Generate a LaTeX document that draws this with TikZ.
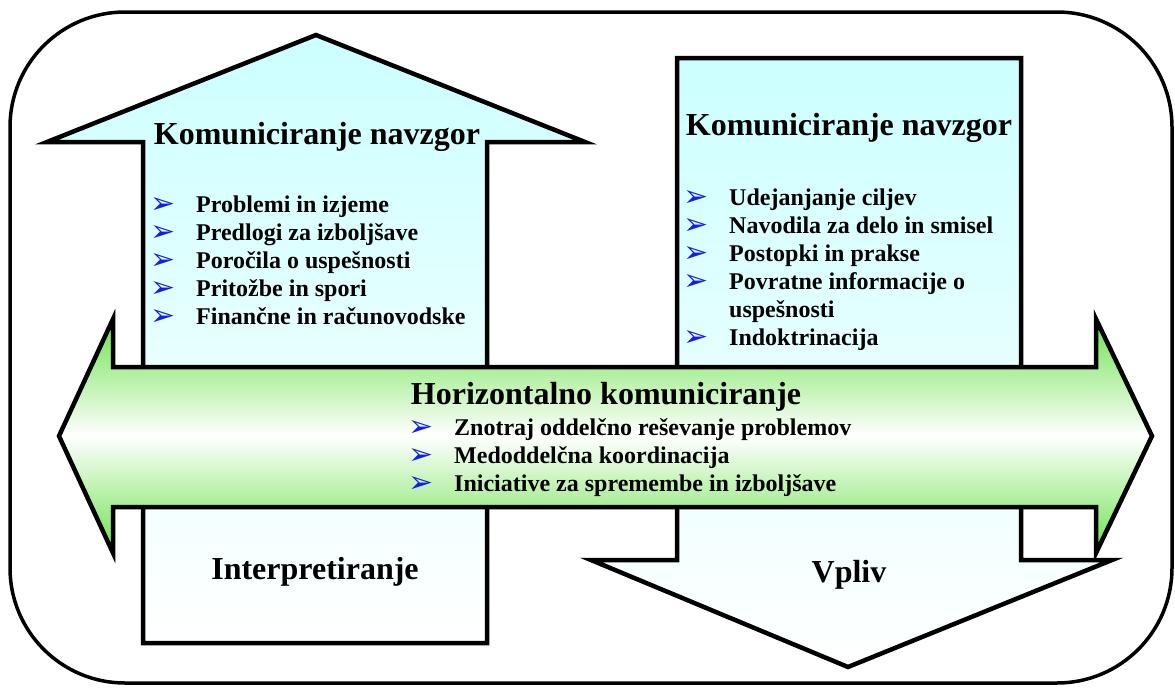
\documentclass[tikz,border=0pt]{standalone}
\usepackage{fontspec}
\setmainfont{Liberation Serif}
\newfontfamily\symfont{DejaVu Sans}
\usepackage{tikz}
\usetikzlibrary{positioning}

\definecolor{upcyan}{RGB}{204,255,255}   % 竖向箭头顶部的浅青色
\definecolor{hgreen}{RGB}{110,226,78}    % 横向箭头上下边缘的绿色
\definecolor{bulletblue}{RGB}{20,30,230} % 列表符号的蓝色

\newcommand{\bul}{\makebox[46pt][l]{\raisebox{-1pt}{\symfont\fontsize{30}{30}\selectfont\color{bulletblue}➢}}}

\tikzset{
  frame/.style={line width=3.5pt, rounded corners=115pt},
  bigarrow/.style={draw=black, line width=4.5pt, line join=miter},
  vfill/.style={top color=upcyan, bottom color=white},
  hfill/.style={top color=hgreen, bottom color=hgreen, middle color=white},
  headtext/.style={font=\fontsize{32}{36}\selectfont\bfseries, inner sep=0pt},
  listtext/.style={font=\fontsize{24}{28}\selectfont\bfseries, align=left, inner sep=0pt}
}

\begin{document}
\begin{tikzpicture}[x=1pt, y=-1pt] % 以像素为单位，y 轴向下
  \useasboundingbox (0,0) rectangle (1175,688);
  \draw[frame] (10,12) rectangle (1172,683); % 外框（圆角矩形）

  % 向上的箭头
  \coordinate (U1) at (316,35);  % 箭头尖
  \coordinate (U2) at (585,142);
  \coordinate (U3) at (487,142);
  \coordinate (U4) at (487,643);
  \coordinate (U5) at (143,643);
  \coordinate (U6) at (143,142);
  \coordinate (U7) at (47,142);
  \path[bigarrow, vfill] (U1) -- (U2) -- (U3) -- (U4) -- (U5) -- (U6) -- (U7) -- cycle;

  % 向下的箭头
  \coordinate (D1) at (677,58);
  \coordinate (D2) at (1021,58);
  \coordinate (D3) at (1021,560);
  \coordinate (D4) at (1112,560);
  \coordinate (D5) at (848,667); % 箭头尖
  \coordinate (D6) at (591,560);
  \coordinate (D7) at (677,560);
  \path[bigarrow, vfill] (D1) -- (D2) -- (D3) -- (D4) -- (D5) -- (D6) -- (D7) -- cycle;

  % 横向双箭头（压在两个竖向箭头上）
  \path[bigarrow, hfill] (59,436) -- (113,319) -- (113,367) -- (1096,367) -- (1096,319)
    -- (1152,436) -- (1096,553) -- (1096,507) -- (113,507) -- (113,553) -- cycle;

  % 文字
  \node[headtext] (uptitle) at (317,137) {Komuniciranje navzgor};
  \node[listtext, anchor=north west] (uplist) at (150,196) {\bul Problemi in izjeme\\
    \bul Predlogi za izboljšave\\
    \bul Poročila o uspešnosti\\
    \bul Pritožbe in spori\\
    \bul Finančne in računovodske};

  \node[headtext] (downtitle) at (849,128) {Komuniciranje navzgor};
  \node[listtext, anchor=north west] (downlist) at (683,189) {\bul Udejanjanje ciljev\\
    \bul Navodila za delo in smisel\\
    \bul Postopki in prakse\\
    \bul Povratne informacije o\\
    \hspace*{46pt}uspešnosti\\
    \bul Indoktrinacija};

  \node[headtext] (htitle) at (606,397) {Horizontalno komuniciranje};
  \node[listtext, anchor=north west] (hlist) at (408,418) {\bul Znotraj oddelčno reševanje problemov\\
    \bul Medoddelčna koordinacija\\
    \bul Iniciative za spremembe in izboljšave};

  \node[headtext] (interp) at (315,572) {Interpretiranje};
  \node[headtext] (vpliv) at (849,575) {Vpliv};
\end{tikzpicture}
\end{document}
